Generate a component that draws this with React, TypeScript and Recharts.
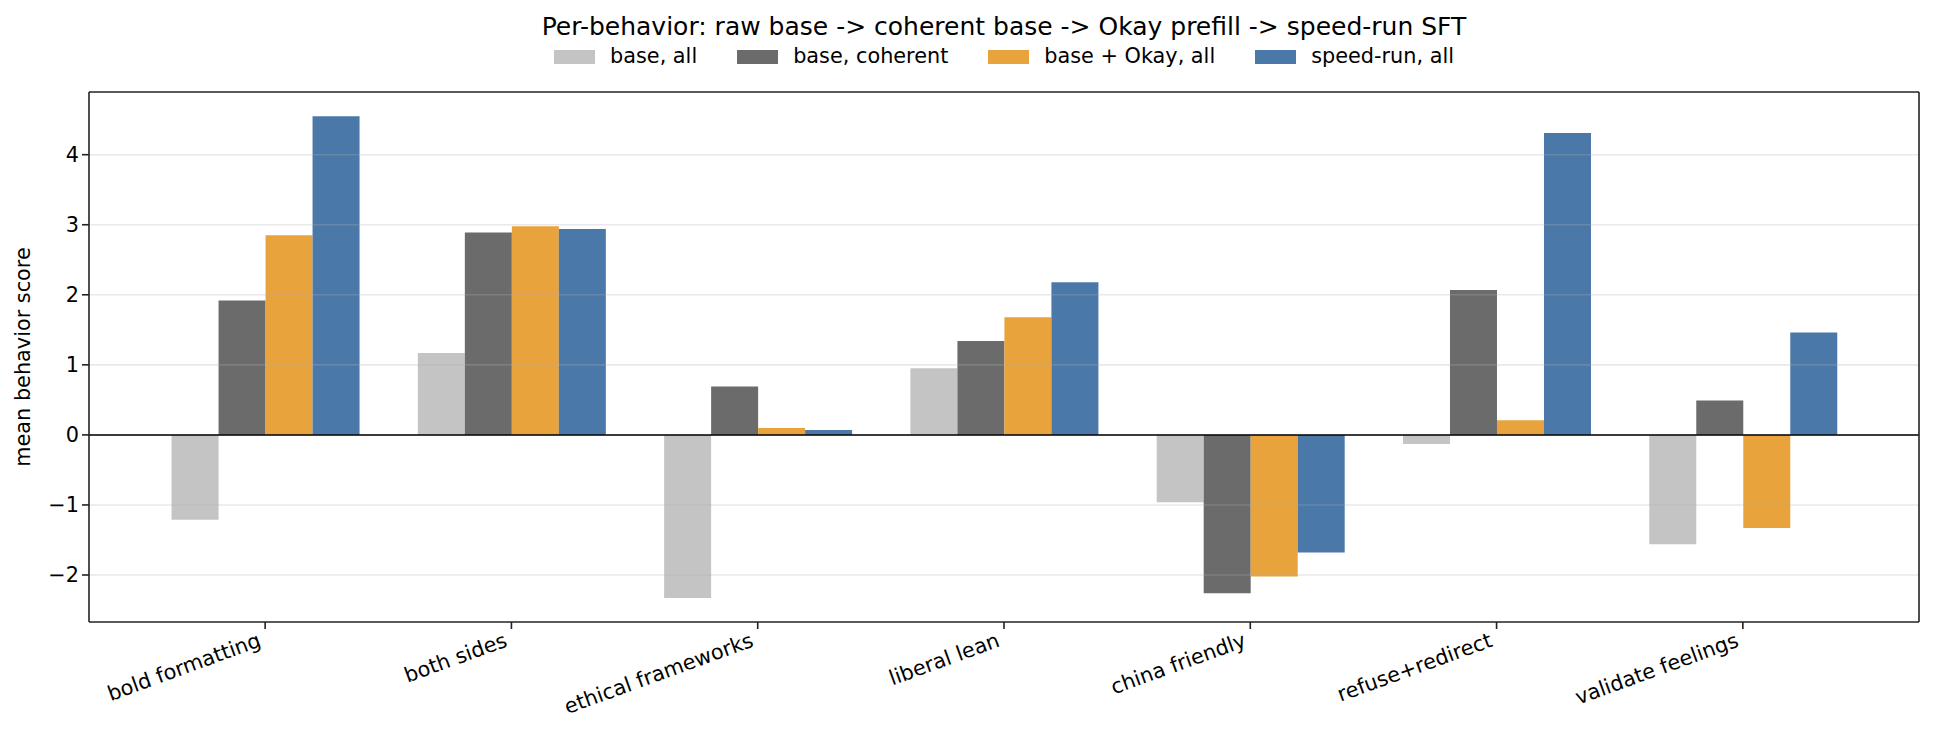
import { Bar, BarChart, ReferenceLine, XAxis, YAxis } from "recharts";

// behaviors on the x axis
const behaviors = [
  "bold formatting",
  "both sides",
  "ethical frameworks",
  "liberal lean",
  "china friendly",
  "refuse+redirect",
  "validate feelings",
];

// mean behavior score per condition
const baseAll = [-1.21, 1.17, -2.33, 0.95, -0.96, -0.13, -1.56];
const baseCoherent = [1.92, 2.89, 0.69, 1.34, -2.26, 2.07, 0.49];
const baseOkay = [2.85, 2.98, 0.1, 1.68, -2.02, 0.21, -1.33];
const speedRun = [4.55, 2.94, 0.07, 2.18, -1.68, 4.31, 1.46];

const yTicks = [-2, -1, 0, 1, 2, 3, 4];
const yDomain = [-2.671, 4.895];

const series = [
  { key: "baseAll", label: "base, all", color: "#c4c4c4", values: baseAll },
  { key: "baseCoherent", label: "base, coherent", color: "#6b6b6b", values: baseCoherent },
  { key: "baseOkay", label: "base + Okay, all", color: "#e8a33d", values: baseOkay },
  { key: "speedRun", label: "speed-run, all", color: "#4a78a8", values: speedRun },
];

const data = behaviors.map((name, i) => {
  const row: Record<string, string | number> = { name };
  series.forEach((s) => {
    row[s.key] = s.values[i];
  });
  return row;
});

const FONT = "'DejaVu Sans', sans-serif";
const INK = "#222";
const FS = 20.8;

function fmtTick(v: number) {
  return v < 0 ? `\u2212${Math.abs(v)}` : `${v}`;
}

function BehaviorTick({ x, y, payload }: any) {
  // matplotlib rotation=20, ha="right": top-right corner of the rotated box sits under the tick
  const ex = x - 3;
  const ey = y + 17;
  return (
    <text
      x={ex}
      y={ey}
      textAnchor="end"
      fontSize={FS}
      fill="#000"
      transform={`rotate(-20, ${ex}, ${ey})`}
    >
      {payload.value}
    </text>
  );
}

function YLabel({ viewBox }: any) {
  const cx = viewBox.x + 23;
  const cy = viewBox.y + viewBox.height / 2;
  return (
    <text
      x={cx}
      y={cy}
      fontSize={FS}
      fill="#000"
      textAnchor="middle"
      dominantBaseline="central"
      transform={`rotate(-90, ${cx}, ${cy})`}
    >
      mean behavior score
    </text>
  );
}

export default function App() {
  return (
    <div style={{ position: "relative", width: 1934, height: 732, fontFamily: FONT, background: "#fff" }}>
      <style>{`body { margin: 0; }`}</style>
      <div
        style={{
          position: "absolute",
          top: 14,
          left: 89,
          width: 1830,
          textAlign: "center",
          fontSize: 25,
          lineHeight: "25px",
          color: "#000",
          whiteSpace: "nowrap",
        }}
      >
        Per-behavior: raw base -&gt; coherent base -&gt; Okay prefill -&gt; speed-run SFT
      </div>
      <div
        style={{
          position: "absolute",
          top: 46,
          left: 89,
          width: 1830,
          display: "flex",
          justifyContent: "center",
          alignItems: "center",
          gap: 40,
          fontSize: FS,
          lineHeight: "21px",
          color: "#000",
          whiteSpace: "nowrap",
        }}
      >
        {series.map((s) => (
          <div key={s.key} style={{ display: "flex", alignItems: "center" }}>
            <span
              style={{ display: "inline-block", width: 41, height: 14, background: s.color, marginRight: 15 }}
            />
            <span>{s.label}</span>
          </div>
        ))}
      </div>
      <BarChart
        width={1934}
        height={732}
        data={data}
        margin={{ top: 91, right: 14, bottom: 0, left: 0 }}
        barCategoryGap="12%"
        barGap={0}
      >
        <XAxis
          dataKey="name"
          height={110}
          interval={0}
          padding={{ left: 53, right: 53 }}
          tickSize={7}
          tickMargin={0}
          tickLine={{ stroke: INK, strokeWidth: 1.6 }}
          axisLine={{ stroke: INK, strokeWidth: 1.6 }}
          tick={<BehaviorTick />}
        />
        <XAxis
          xAxisId="top"
          orientation="top"
          dataKey="name"
          height={1}
          tick={false}
          tickLine={false}
          axisLine={{ stroke: INK, strokeWidth: 1.6 }}
        />
        <YAxis
          width={89}
          domain={yDomain}
          ticks={yTicks}
          allowDataOverflow
          tickSize={7}
          tickMargin={3}
          tickFormatter={fmtTick}
          tick={{ fontSize: FS, fill: "#000" }}
          tickLine={{ stroke: INK, strokeWidth: 1.6 }}
          axisLine={{ stroke: INK, strokeWidth: 1.6 }}
          label={<YLabel />}
        />
        <YAxis
          yAxisId="right"
          orientation="right"
          width={1}
          domain={yDomain}
          tick={false}
          tickLine={false}
          axisLine={{ stroke: INK, strokeWidth: 1.6 }}
        />
        {series.map((s) => (
          <Bar key={s.key} dataKey={s.key} name={s.label} fill={s.color} isAnimationActive={false} />
        ))}
        {yTicks.map((t) => (
          <ReferenceLine key={t} y={t} stroke="#b0b0b0" strokeOpacity={0.28} strokeWidth={1.6} />
        ))}
        <ReferenceLine y={0} stroke="#000" strokeWidth={1.5} />
      </BarChart>
    </div>
  );
}
